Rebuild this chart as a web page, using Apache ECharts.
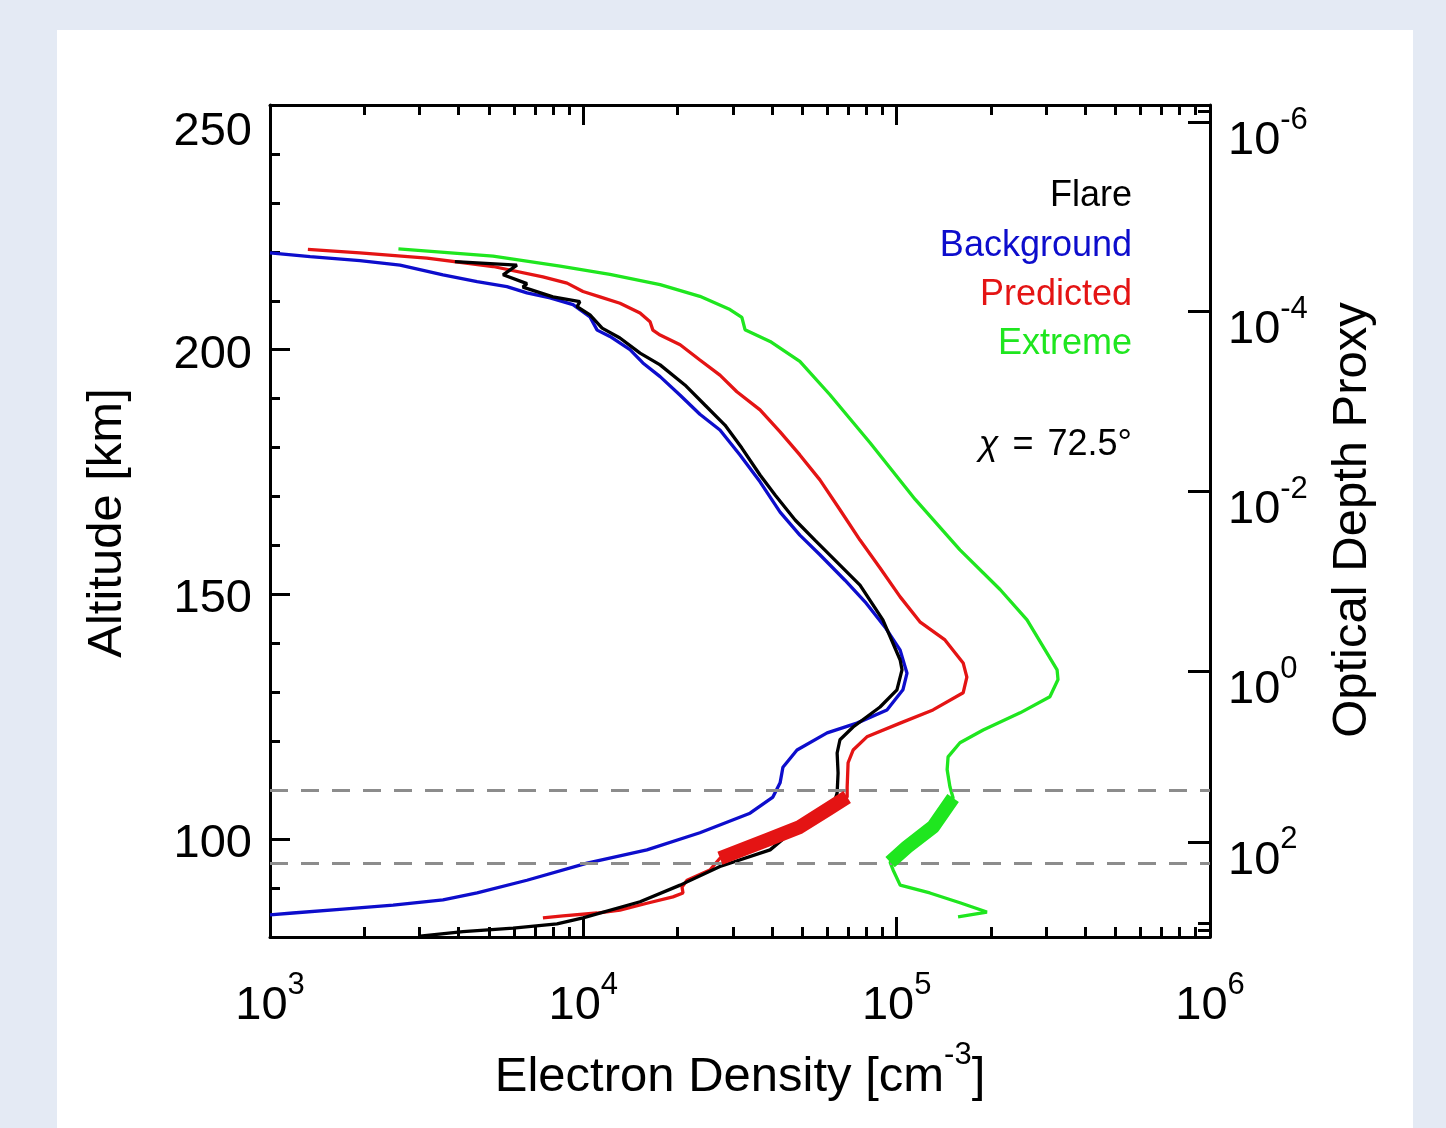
<!DOCTYPE html>
<html>
<head>
<meta charset="utf-8">
<title>Electron density profile</title>
<script src="https://cdn.jsdelivr.net/npm/echarts@6/dist/echarts.min.js"></script>
<style>
  html, body { margin: 0; padding: 0; background: #e4eaf4; }
  #panel { position: absolute; left: 57px; top: 30px; width: 1356px; height: 1098px; background: #fff; }
  #chart { position: absolute; left: 0; top: 0; width: 1446px; height: 1128px; }
</style>
</head>
<body>
<div id="panel"></div>
<div id="chart"></div>
<script>
// altitude [km] and electron density [cm^-3]
const flareAlt = [218.0, 217.3, 215.3, 213.5, 212.8, 210.8, 209.8, 208.8, 207.1, 204.4, 202.4, 199.3, 196.9, 192.8, 188.7,
  184.6, 179.9, 174.4, 170.3, 165.2, 161.1, 156.0, 151.9, 144.8, 136.6, 134.6, 130.5, 127.0, 122.9, 120.3,
  117.6, 113.5, 109.4, 108.0, 102.9, 97.8, 94.4, 90.6, 87.2, 83.9, 82.7, 81.8, 81.1, 80.2];
const flareNe = [3890, 6138, 5546, 6607, 6412, 7998, 9750, 9550, 10500, 11480, 13090, 15170, 17580, 21090, 24430,
  28310, 32060, 36640, 40930, 47420, 54830, 65920, 76380, 90360, 102600, 104000, 100200, 88510, 72610, 65920,
  64570, 65010, 64570, 63530, 49090, 39450, 27290, 20370, 15170, 9977, 8241, 5970, 4130, 3013];

const backgroundAlt = [219.8, 219.0, 218.2, 217.3, 215.3, 213.9, 212.9, 211.6, 210.6, 209.2, 206.7, 204.0, 202.7, 200.0,
  197.3, 194.5, 190.7, 186.8, 183.6, 178.5, 173.0, 166.8, 162.1, 158.1, 152.9, 148.5, 143.3, 138.6, 133.9, 130.5,
  126.4, 123.7, 121.7, 118.2, 114.7, 111.5, 108.6, 105.3, 101.3, 97.8, 95.1, 91.6, 89.0, 87.6, 86.5, 85.7, 84.9, 84.5];
const backgroundNe = [1000, 1343, 1936, 2600, 3565, 4581, 5702, 6607, 7834, 9268, 10500, 11070, 12160, 14090,
  15490, 17580, 20370, 23550, 27290, 31620, 36640, 42460, 49090, 56890, 68390, 79250, 91830, 102600, 107900, 104700,
  93110, 74650, 59980, 48080, 43350, 42460, 40270, 34040, 23550, 15960, 10280, 6607, 4581, 3565, 2472, 1710, 1183, 1000];

const predictedAlt = [220.5, 219.8, 218.7, 217.0, 214.9, 213.6, 211.9, 210.8, 209.5, 207.5, 205.7, 204.0, 203.0, 201.0,
  197.9, 194.8, 191.4, 187.7, 183.2, 178.5, 173.4, 167.3, 161.1, 155.4, 149.5, 144.4, 140.7, 136.0, 133.1, 129.9,
  126.4, 123.7, 120.9, 118.2, 115.6, 110.6, 108.6, 106.0, 102.5, 99.8, 96.1, 93.7, 91.6, 90.2, 89.0, 88.2,
  86.9, 85.5, 84.9, 84.3, 83.9];
const predictedNe = [1321, 1936, 3170, 5152, 7430, 8872, 9977, 11300, 13090, 15170, 16330, 16670, 17580, 20370,
  23550, 27290, 30900, 36640, 42460, 49090, 56890, 65920, 76380, 88510, 102600, 118600, 142600, 163000, 167500, 163000,
  130600, 102600, 80350, 72610, 69980, 69500, 69500, 59980, 49090, 38550, 27290, 25350, 21430, 20650, 20800, 19320,
  15960, 13090, 11070, 8610, 7430];

const extremeAlt = [220.6, 219.1, 217.1, 215.4, 213.3, 210.9, 208.2, 206.6, 204.1, 201.7, 197.6, 190.8, 181.0, 169.4,
  159.1, 151.0, 144.8, 134.6, 132.6, 129.1, 125.8, 122.3, 119.7, 116.8, 114.2, 110.7, 108.4, 102.5, 98.4, 95.3,
  93.7, 90.6, 89.0, 87.0, 85.1, 84.1];
const extremeNe = [2570, 5152, 8430, 12160, 17580, 23550, 29380, 32060, 32810, 39450, 49090, 61240, 82220, 114600,
  159200, 213800, 260600, 325100, 327300, 308300, 247700, 188800, 159200, 145900, 144900, 147900, 151400, 130600, 107900, 95280,
  97400, 102600, 127600, 159200, 194100, 157000];

// altitude band drawn with the heavy line
const thickBand = [95, 109];
const dashAlts = [110, 95];

// ticks
const densityMajor = [1e3, 1e4, 1e5, 1e6];
const densityMinor = [2e3, 3e3, 4e3, 5e3, 6e3, 7e3, 8e3, 9e3, 2e4, 3e4, 4e4, 5e4, 6e4, 7e4, 8e4, 9e4,
  2e5, 3e5, 4e5, 5e5, 6e5, 7e5, 8e5, 9e5];
const altMajor = [100, 150, 200, 250];
const altMinor = [90, 110, 120, 130, 140, 160, 170, 180, 190, 210, 220, 230, 240];
const depthExp = [-6, -4, -2, 0, 2];
const depthAlt = [246.4, 207.8, 171.0, 134.2, 99.4];
const depthMinorAlt = [248.8, 82.9, 81.4];

const FONT = '"Liberation Sans", Arial, Helvetica, sans-serif';
const BLACK = '#000000', BLUE = '#0d0dcc', RED = '#e41414', GREEN = '#1fe61f';

const pairs = (alt, ne) => alt.map((a, i) => [ne[i], a]);
const inBand = (p) => p[1] >= thickBand[0] && p[1] <= thickBand[1];

const supRich = {
  b: { fontSize: 47, fontFamily: FONT, color: '#000', lineHeight: 60, verticalAlign: 'bottom' },
  s: { fontSize: 31, fontFamily: FONT, color: '#000', lineHeight: 30, verticalAlign: 'top' }
};
const tickStyle = { color: '#000', width: 3 };

const xAxisBase = { type: 'log', logBase: 10, min: 1e3, max: 1e6, splitLine: { show: false } };
const yAxisBase = { type: 'value', min: 80, max: 250, splitLine: { show: false } };

const chart = echarts.init(document.getElementById('chart'), null, { renderer: 'canvas' });

chart.setOption({
  animation: false,
  backgroundColor: 'transparent',
  grid: { left: 270, right: 236, top: 105, bottom: 191, containLabel: false, outerBoundsMode: 'none' },
  xAxis: [
    Object.assign({}, xAxisBase, {
      position: 'bottom',
      axisLine: { show: true, onZero: false, lineStyle: { color: '#000', width: 3 } },
      axisTick: { show: true, inside: true, length: 20, lineStyle: tickStyle, customValues: densityMajor },
      axisLabel: {
        margin: 33, customValues: densityMajor, rich: supRich,
        formatter: v => '{b|10}{s|' + Math.round(Math.log10(v)) + '}'
      }
    }),
    Object.assign({}, xAxisBase, {
      position: 'bottom',
      axisLine: { show: false },
      axisTick: { show: true, inside: true, length: 10, lineStyle: tickStyle, customValues: densityMinor },
      axisLabel: { show: false }
    }),
    Object.assign({}, xAxisBase, {
      position: 'top',
      axisLine: { show: true, onZero: false, lineStyle: { color: '#000', width: 3 } },
      axisTick: { show: true, inside: true, length: 20, lineStyle: tickStyle, customValues: densityMajor },
      axisLabel: { show: false }
    }),
    Object.assign({}, xAxisBase, {
      position: 'top',
      axisLine: { show: false },
      axisTick: { show: true, inside: true, length: 10, lineStyle: tickStyle, customValues: densityMinor },
      axisLabel: { show: false }
    })
  ],
  yAxis: [
    Object.assign({}, yAxisBase, {
      position: 'left',
      axisLine: { show: true, onZero: false, lineStyle: { color: '#000', width: 3 } },
      axisTick: { show: true, inside: true, length: 20, lineStyle: tickStyle, customValues: altMajor },
      axisLabel: {
        margin: 18, customValues: altMajor,
        formatter: v => (v === 250 ? '{t|' + v + '}' : '{n|' + v + '}'),
        rich: {
          n: { fontSize: 47, fontFamily: FONT, color: '#000', padding: [10, 0, 0, 0] },
          t: { fontSize: 47, fontFamily: FONT, color: '#000', padding: [54, 0, 0, 0] }
        }
      }
    }),
    Object.assign({}, yAxisBase, {
      position: 'left',
      axisLine: { show: false },
      axisTick: { show: true, inside: true, length: 10, lineStyle: tickStyle, customValues: altMinor },
      axisLabel: { show: false }
    }),
    Object.assign({}, yAxisBase, {
      position: 'right',
      axisLine: { show: true, onZero: false, lineStyle: { color: '#000', width: 3 } },
      axisTick: { show: true, inside: true, length: 22, lineStyle: tickStyle, customValues: depthAlt },
      axisLabel: {
        margin: 18, customValues: depthAlt, rich: supRich, padding: [24, 0, 0, 0],
        formatter: v => {
          let k = 0;
          depthAlt.forEach((a, i) => { if (Math.abs(a - v) < Math.abs(depthAlt[k] - v)) k = i; });
          return '{b|10}{s|' + depthExp[k] + '}';
        }
      }
    }),
    Object.assign({}, yAxisBase, {
      position: 'right',
      axisLine: { show: false },
      axisTick: { show: true, inside: true, length: 12, lineStyle: tickStyle, customValues: depthMinorAlt },
      axisLabel: { show: false }
    })
  ],
  series: [
    {
      name: 'Background', type: 'line', xAxisIndex: 0, yAxisIndex: 0,
      data: pairs(backgroundAlt, backgroundNe), showSymbol: false, symbol: 'none',
      lineStyle: { color: BLUE, width: 3.3 }, z: 3,
      markLine: {
        silent: true, symbol: 'none', label: { show: false },
        lineStyle: { color: '#8c8c8c', width: 3, type: [18, 13] },
        data: dashAlts.map(a => ({ yAxis: a }))
      }
    },
    {
      name: 'Predicted', type: 'line', xAxisIndex: 0, yAxisIndex: 0,
      data: pairs(predictedAlt, predictedNe), showSymbol: false, symbol: 'none',
      lineStyle: { color: RED, width: 3.3 }, z: 3
    },
    {
      name: 'Extreme', type: 'line', xAxisIndex: 0, yAxisIndex: 0,
      data: pairs(extremeAlt, extremeNe), showSymbol: false, symbol: 'none',
      lineStyle: { color: GREEN, width: 3.3 }, z: 3
    },
    {
      name: 'Flare', type: 'line', xAxisIndex: 0, yAxisIndex: 0,
      data: pairs(flareAlt, flareNe), showSymbol: false, symbol: 'none',
      lineStyle: { color: BLACK, width: 3.3 }, z: 4
    },
    {
      name: 'Predicted band', type: 'line', xAxisIndex: 0, yAxisIndex: 0,
      data: pairs(predictedAlt, predictedNe).filter(inBand), showSymbol: false, symbol: 'none',
      lineStyle: { color: RED, width: 14, join: 'round' }, z: 5
    },
    {
      name: 'Extreme band', type: 'line', xAxisIndex: 0, yAxisIndex: 0,
      data: pairs(extremeAlt, extremeNe).filter(inBand), showSymbol: false, symbol: 'none',
      lineStyle: { color: GREEN, width: 14, join: 'round' }, z: 5
    }
  ],
  graphic: [
    { type: 'text', x: 107, y: 523, rotation: Math.PI / 2,
      style: { text: 'Altitude [km]', font: '49px ' + FONT, fill: '#000', align: 'center', verticalAlign: 'middle' } },
    { type: 'text', x: 1352, y: 520, rotation: Math.PI / 2,
      style: { text: 'Optical Depth Proxy', font: '49px ' + FONT, fill: '#000', align: 'center', verticalAlign: 'middle' } },
    { type: 'text', x: 740, y: 1071,
      style: {
        text: '{a|Electron Density [cm}{s|-3}{a|]}', align: 'center', verticalAlign: 'middle',
        rich: {
          a: { fontSize: 49, fontFamily: FONT, color: '#000', lineHeight: 62, verticalAlign: 'bottom' },
          s: { fontSize: 31, fontFamily: FONT, color: '#000', lineHeight: 30, verticalAlign: 'top' }
        }
      } },
    { type: 'text', x: 1132, y: 196, style: { text: 'Flare', font: '36px ' + FONT, fill: BLACK, align: 'right', verticalAlign: 'middle' } },
    { type: 'text', x: 1132, y: 246, style: { text: 'Background', font: '36px ' + FONT, fill: BLUE, align: 'right', verticalAlign: 'middle' } },
    { type: 'text', x: 1132, y: 295, style: { text: 'Predicted', font: '36px ' + FONT, fill: RED, align: 'right', verticalAlign: 'middle' } },
    { type: 'text', x: 1132, y: 344, style: { text: 'Extreme', font: '36px ' + FONT, fill: GREEN, align: 'right', verticalAlign: 'middle' } },
    { type: 'text', x: 1132, y: 445,
      style: {
        text: '{i|χ}{e|=}72.5°', align: 'right', verticalAlign: 'middle',
        rich: {
          i: { fontSize: 36, fontFamily: FONT, fontStyle: 'italic', color: '#000', padding: [0, 14, 0, 0] },
          e: { fontSize: 36, fontFamily: FONT, color: '#000', padding: [0, 14, 0, 0] }
        },
        font: '36px ' + FONT, fill: '#000'
      } }
  ]
});
</script>
</body>
</html>
